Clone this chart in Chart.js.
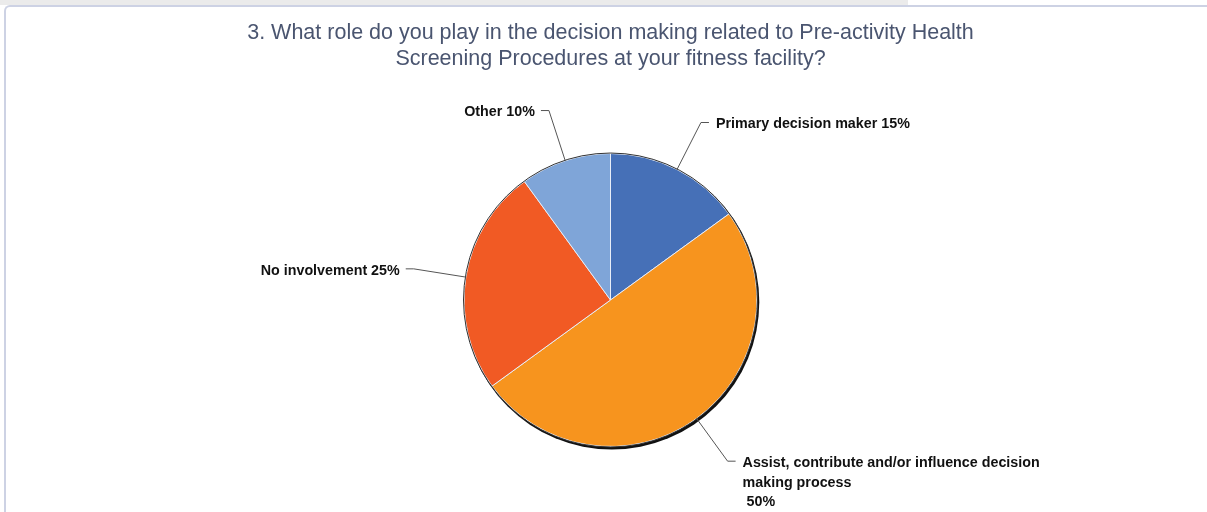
<!DOCTYPE html>
<html>
<head>
<meta charset="utf-8">
<title>Pre-activity Health Screening - decision role</title>
<script src="https://cdn.jsdelivr.net/npm/chart.js@4.4.1/dist/chart.umd.min.js"></script>
<style>
  html, body { margin: 0; padding: 0; background: #fff; }
  body { width: 1207px; height: 512px; position: relative; overflow: hidden; }
  .tab { position: absolute; left: 0; top: 0; width: 908px; height: 5px; background: #ebebeb; }
  .panel {
    position: absolute; left: 4px; top: 5px; right: -10px; bottom: -10px;
    border-left: 2px solid #cdd2e4; border-top: 2px solid #cdd2e4;
    border-top-left-radius: 6px; background: #fff;
  }
  #wrap { position: absolute; left: 0; top: 0; width: 1207px; height: 512px; }
</style>
</head>
<body>
<div class="tab"></div>
<div class="panel"></div>
<div id="wrap"><canvas id="roleChart"></canvas></div>
<script>
const titleLines = [
  '3. What role do you play in the decision making related to Pre-activity Health',
  'Screening Procedures at your fitness facility?'
];
const categories = [
  'Primary decision maker',
  ['Assist, contribute and/or influence decision', 'making process'],
  'No involvement',
  'Other'
];
const shares = [15, 50, 25, 10];
const sliceColors = ['#4670b7', '#f7941e', '#f15a24', '#7fa5d8'];

// dark rim + drop shadow around the pie
const pieRim = {
  id: 'pieRim',
  beforeDatasetsDraw(chart) {
    const arc = chart.getDatasetMeta(0).data[0];
    const ctx = chart.ctx;
    ctx.save();
    ctx.fillStyle = '#111';
    ctx.beginPath();
    ctx.arc(arc.x + 1.3, arc.y + 2, arc.outerRadius + 1, 0, Math.PI * 2);
    ctx.fill();
    ctx.restore();
  },
  afterDatasetsDraw(chart) {
    const arc = chart.getDatasetMeta(0).data[0];
    const ctx = chart.ctx;
    ctx.save();
    ctx.strokeStyle = '#333';
    ctx.lineWidth = 1;
    ctx.beginPath();
    ctx.arc(arc.x, arc.y, arc.outerRadius + 0.5, 0, Math.PI * 2);
    ctx.stroke();
    ctx.restore();
  }
};

// callout labels with leader lines
const calloutLabels = {
  id: 'calloutLabels',
  afterDraw(chart) {
    const ctx = chart.ctx;
    const meta = chart.getDatasetMeta(0);
    const total = shares.reduce((a, b) => a + b, 0);
    ctx.save();
    ctx.font = 'bold 14.3px "Liberation Sans", Arial, sans-serif';
    ctx.textBaseline = 'middle';
    meta.data.forEach((arc, i) => {
      const mid = (arc.startAngle + arc.endAngle) / 2;
      const r = arc.outerRadius;
      const cos = Math.cos(mid), sin = Math.sin(mid);
      const x0 = arc.x + cos * r, y0 = arc.y + sin * r;
      const x1 = arc.x + cos * r * 1.36, y1 = arc.y + sin * r * 1.36;
      const right = cos >= 0;
      const x2 = x1 + (right ? 8 : -8);

      ctx.strokeStyle = '#555';
      ctx.lineWidth = 1;
      ctx.beginPath();
      ctx.moveTo(x0, y0);
      ctx.lineTo(x1, y1);
      ctx.lineTo(x2, y1);
      ctx.stroke();

      const pct = Math.round(shares[i] / total * 100) + '%';
      const cat = categories[i];
      const lines = Array.isArray(cat) ? [...cat, ' ' + pct] : [cat + ' ' + pct];
      ctx.fillStyle = '#111';
      ctx.textAlign = right ? 'left' : 'right';
      const tx = x2 + (right ? 7 : -6);
      lines.forEach((ln, k) => ctx.fillText(ln, tx, y1 + 2 + k * 19.5));
    });
    ctx.restore();
  }
};

const ctx = document.getElementById('roleChart').getContext('2d');
new Chart(ctx, {
  type: 'pie',
  data: {
    labels: categories.map(c => Array.isArray(c) ? c.join(' ') : c),
    datasets: [{
      data: shares,
      backgroundColor: sliceColors,
      borderColor: '#e9eef8',
      borderWidth: 1
    }]
  },
  options: {
    responsive: true,
    maintainAspectRatio: false,
    animation: false,
    layout: { padding: { left: 14, right: 0, top: 0, bottom: 65 } },
    plugins: {
      legend: { display: false },
      tooltip: { enabled: false },
      title: {
        display: true,
        text: titleLines,
        color: '#4a5570',
        font: { family: '"Liberation Sans", Arial, sans-serif', size: 21.5, weight: 'normal', lineHeight: 1.21 },
        padding: { top: 20, bottom: 81 }
      }
    }
  },
  plugins: [pieRim, calloutLabels]
});
</script>
</body>
</html>
